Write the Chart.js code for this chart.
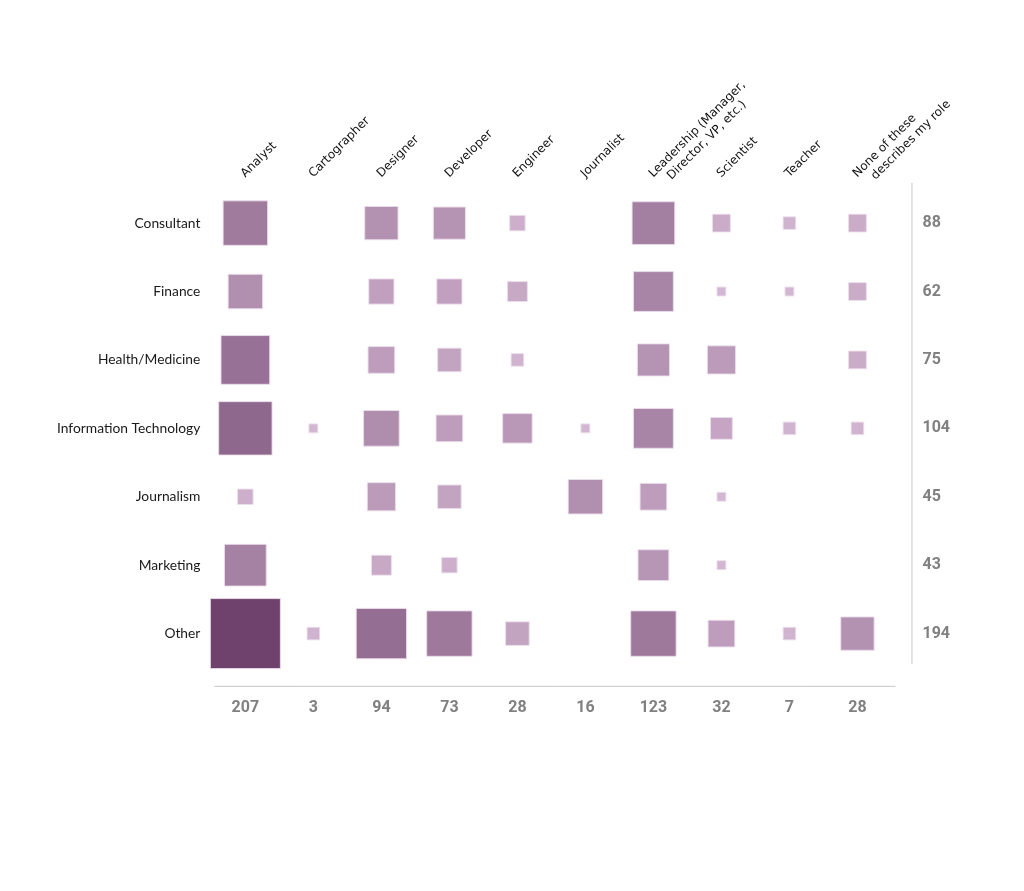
<!DOCTYPE html>
<html lang="en">
<head>
    <meta charset="UTF-8">
    <title>Roles by industry</title>
    <script src="https://cdn.jsdelivr.net/npm/chart.js@4.4.1/dist/chart.umd.min.js"></script>
    <style>
        html, body { margin: 0; padding: 0; background: #fff; }
        .chart-box { width: 1024px; height: 891px; position: relative; }
    </style>
</head>
<body>
    <div class="chart-box">
        <canvas id="matrixChart"></canvas>
    </div>

    <script>
        // Column labels (roles), shown rotated on top
        const roleLabels = ['Analyst', 'Cartographer', 'Designer', 'Developer', 'Engineer', 'Journalist',
            ['Leadership (Manager,', 'Director, VP, etc.)'], 'Scientist', 'Teacher',
            ['None of these', 'describes my role']];
        const roles = roleLabels.map(l => Array.isArray(l) ? l.join(' ') : l);

        // Row labels (industries)
        const industries = ['Consultant', 'Finance', 'Health/Medicine', 'Information Technology',
            'Journalism', 'Marketing', 'Other'];

        // Counts per industry, in role order
        const consultant = [25, 0, 14, 13, 3, 0, 23, 4, 2, 4];
        const finance    = [15, 0, 8, 8, 5, 0, 20, 1, 1, 4];
        const health     = [30, 0, 9, 7, 2, 0, 13, 10, 0, 4];
        const infoTech   = [36, 1, 16, 9, 11, 1, 20, 6, 2, 2];
        const journalism = [3, 0, 10, 7, 0, 15, 9, 1, 0, 0];
        const marketing  = [22, 0, 5, 3, 0, 0, 12, 1, 0, 0];
        const other      = [76, 2, 32, 26, 7, 0, 26, 9, 2, 14];
        const rows = [consultant, finance, health, infoTech, journalism, marketing, other];

        // Totals shown on the right and at the bottom
        const rowTotals = ['88', '62', '75', '104', '45', '43', '194'];
        const colTotals = ['207', '3', '94', '73', '28', '16', '123', '32', '7', '28'];

        // square side grows with sqrt of the count, capped
        const SIDE_K = 8.9, SIDE_MAX = 70;
        function sideFor(v) {
            return Math.min(SIDE_MAX, SIDE_K * Math.sqrt(v));
        }
        const light = [211, 182, 209];
        const dark = [110, 66, 108];
        function colorFor(v) {
            const t = Math.pow((sideFor(v) - SIDE_K) / (SIDE_MAX - SIDE_K), 1.25);
            const c = light.map((l, i) => Math.round(l + (dark[i] - l) * t));
            return `rgb(${c[0]}, ${c[1]}, ${c[2]})`;
        }

        // every top label gets two lines so the first line sits at the same height;
        // the second line is nudged along the slant like in the original
        function tickLines(index) {
            const l = roleLabels[index];
            return Array.isArray(l) ? [l[0], '   ' + l[1]] : [l, ''];
        }

        const points = [];
        rows.forEach((row, r) => {
            row.forEach((v, c) => {
                if (v > 0) points.push({ x: roles[c], y: industries[r], v: v });
            });
        });

        // thin rules beside the right totals and above the bottom totals
        const rulesPlugin = {
            id: 'rules',
            afterDraw(chart) {
                const a = chart.chartArea;
                const ctx = chart.ctx;
                ctx.save();
                ctx.strokeStyle = '#c6c6c6';
                ctx.lineWidth = 1;
                ctx.beginPath();
                ctx.moveTo(a.right + 20.5, a.top - 6);
                ctx.lineTo(a.right + 20.5, a.bottom - 4);
                ctx.moveTo(a.left + 3, a.bottom + 18.5);
                ctx.lineTo(a.right + 4, a.bottom + 18.5);
                ctx.stroke();
                ctx.restore();
            }
        };

        const totalFont = { family: 'Roboto', size: 16, weight: 'bold' };

        new Chart(document.getElementById('matrixChart'), {
            type: 'scatter',
            data: {
                datasets: [{
                    data: points,
                    xAxisID: 'x',
                    yAxisID: 'y',
                    pointStyle: 'rect',
                    pointRadius: ctx => sideFor(ctx.raw.v) / Math.SQRT2,
                    pointHoverRadius: ctx => sideFor(ctx.raw.v) / Math.SQRT2,
                    backgroundColor: ctx => colorFor(ctx.raw.v),
                    borderColor: 'rgba(236, 222, 236, 0.9)',
                    borderWidth: 1,
                    clip: false
                }]
            },
            options: {
                responsive: true,
                maintainAspectRatio: false,
                animation: false,
                layout: { padding: { left: 46, right: 43, top: 80, bottom: 142 } },
                plugins: {
                    legend: { display: false },
                    tooltip: { enabled: false }
                },
                scales: {
                    x: {
                        type: 'category',
                        position: 'top',
                        labels: roles,
                        offset: true,
                        grid: { display: false, drawTicks: false },
                        border: { display: false },
                        ticks: {
                            autoSkip: false,
                            minRotation: 45,
                            maxRotation: 45,
                            padding: -2,
                            labelOffset: 18,
                            color: '#111',
                            font: { family: 'DejaVu Sans', size: 12 },
                            callback: (value, index) => tickLines(index)
                        }
                    },
                    x2: {
                        type: 'category',
                        position: 'bottom',
                        labels: colTotals,
                        offset: true,
                        grid: { display: false, drawTicks: false },
                        border: { display: false },
                        ticks: {
                            autoSkip: false,
                            maxRotation: 0,
                            padding: 31,
                            color: '#808080',
                            font: totalFont
                        }
                    },
                    y: {
                        type: 'category',
                        position: 'left',
                        labels: industries,
                        offset: true,
                        grid: { display: false, drawTicks: false },
                        border: { display: false },
                        ticks: {
                            autoSkip: false,
                            padding: 11,
                            color: '#1a1a1a',
                            font: { family: 'Lato', size: 13.8 }
                        }
                    },
                    y2: {
                        type: 'category',
                        position: 'right',
                        labels: rowTotals,
                        offset: true,
                        grid: { display: false, drawTicks: false },
                        border: { display: false },
                        ticks: {
                            autoSkip: false,
                            padding: 31,
                            color: '#808080',
                            font: totalFont
                        }
                    }
                }
            },
            plugins: [rulesPlugin]
        });
    </script>
</body>
</html>
